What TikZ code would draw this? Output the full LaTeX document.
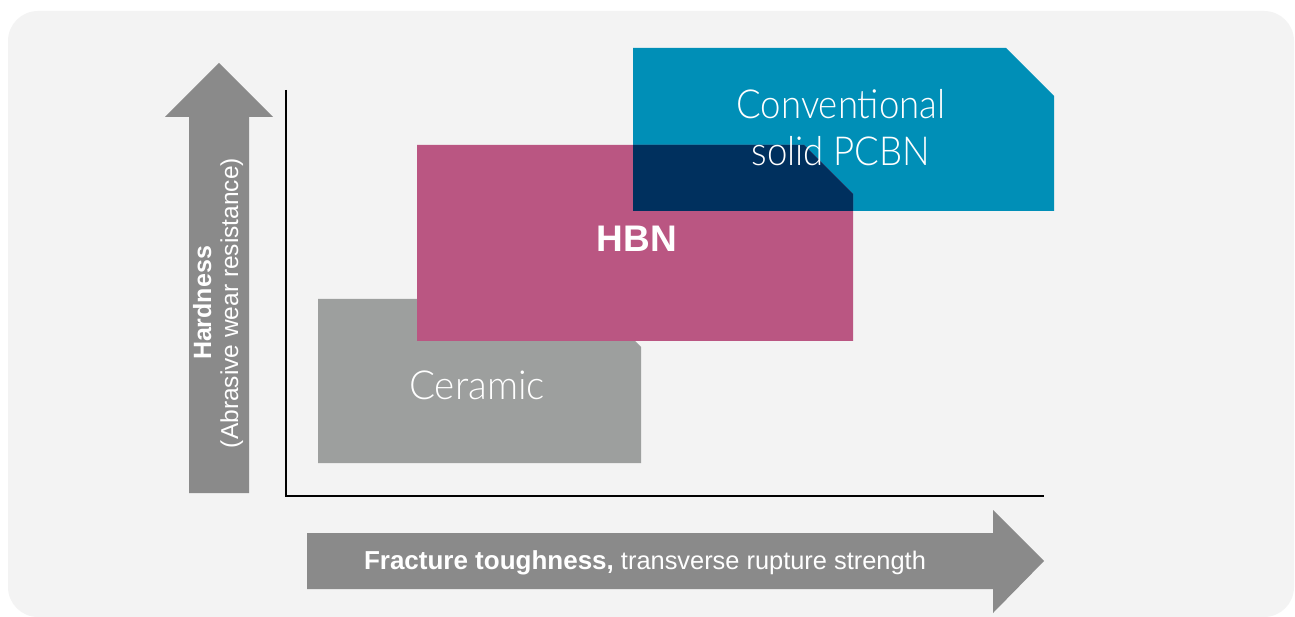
\documentclass[tikz,border=0pt]{standalone}
\usepackage{fontspec}
\usepackage{graphicx}
\setmainfont{Liberation Sans}
\IfFontExistsTF{Lato Light}{\newfontfamily\lightfont{Lato Light}}{\newfontfamily\lightfont{Liberation Sans}}
\definecolor{bgc}{HTML}{F3F3F3}
\definecolor{arrowc}{HTML}{8A8A8A}
\definecolor{ceramicc}{HTML}{9D9F9E}
\definecolor{hbnc}{HTML}{BA5682}
\definecolor{pcbnc}{HTML}{008FB7}
\definecolor{overc}{HTML}{00305E}
\tikzset{
  lbl/.style={text=white, inner sep=0pt, outer sep=0pt},
  lightlbl/.style={lbl, font=\lightfont\fontsize{40}{47}\selectfont},
  axisline/.style={line width=2pt, black, line join=miter},
  bigarrow/.style={fill=arrowc}
}
\begin{document}
\begin{tikzpicture}[x=1pt,y=-1pt]
\useasboundingbox (0,0) rectangle (1295,617);
\fill[white] (0,0) rectangle (1295,617);
\fill[bgc, rounded corners=30pt] (8,11) rectangle (1294,617);

% arrows
\fill[bigarrow] (189,493) -- (189,117) -- (165,117) -- (219,63) -- (273,117) -- (249,117) -- (249,493) -- cycle;
\fill[bigarrow] (307,533) -- (993,533) -- (993,510) -- (1044,561) -- (993,613) -- (993,589) -- (307,589) -- cycle;

% axes
\coordinate (ytop) at (286,90);
\coordinate (orig) at (286,496);
\coordinate (xend) at (1044,496);
\draw[axisline] (ytop) -- (orig) -- (xend);

% boxes
\fill[ceramicc] (318,299) -- (593,299) -- (641,347) -- (641,463) -- (318,463) -- cycle;
\fill[pcbnc] (633,48) -- (1006,48) -- (1054,96) -- (1054,211) -- (633,211) -- cycle;
\fill[hbnc] (417,145) -- (804,145) -- (853,194) -- (853,341) -- (417,341) -- cycle;
\begin{scope}
\clip (417,145) -- (804,145) -- (853,194) -- (853,341) -- (417,341) -- cycle;
\fill[overc] (633,48) -- (1006,48) -- (1054,96) -- (1054,211) -- (633,211) -- cycle;
\end{scope}

% labels
\node[lightlbl] (pcbn) at (841,133)
  {\scalebox{0.915}[1]{\begin{tabular}{@{}c@{}}Conventional\\solid PCBN\end{tabular}}};
\node[lbl, anchor=base, font=\bfseries\fontsize{37}{40}\selectfont] (hbn) at (637,252) {HBN};
\node[lightlbl, anchor=base] (ceramic) at (477,399) {\scalebox{0.965}[1]{Ceramic}};
\node[lbl, rotate=90, align=center, font=\fontsize{25}{27}\selectfont] (hard) at (218,303)
  {{\bfseries Hardness}\\{\fontsize{24.5}{27}\selectfont (Abrasive wear resistance)}};
\node[lbl, anchor=base west, font=\fontsize{25.4}{28}\selectfont] (tough) at (364,569)
  {{\bfseries\fontsize{26}{28}\selectfont Fracture toughness,} transverse rupture strength};
\end{tikzpicture}
\end{document}
